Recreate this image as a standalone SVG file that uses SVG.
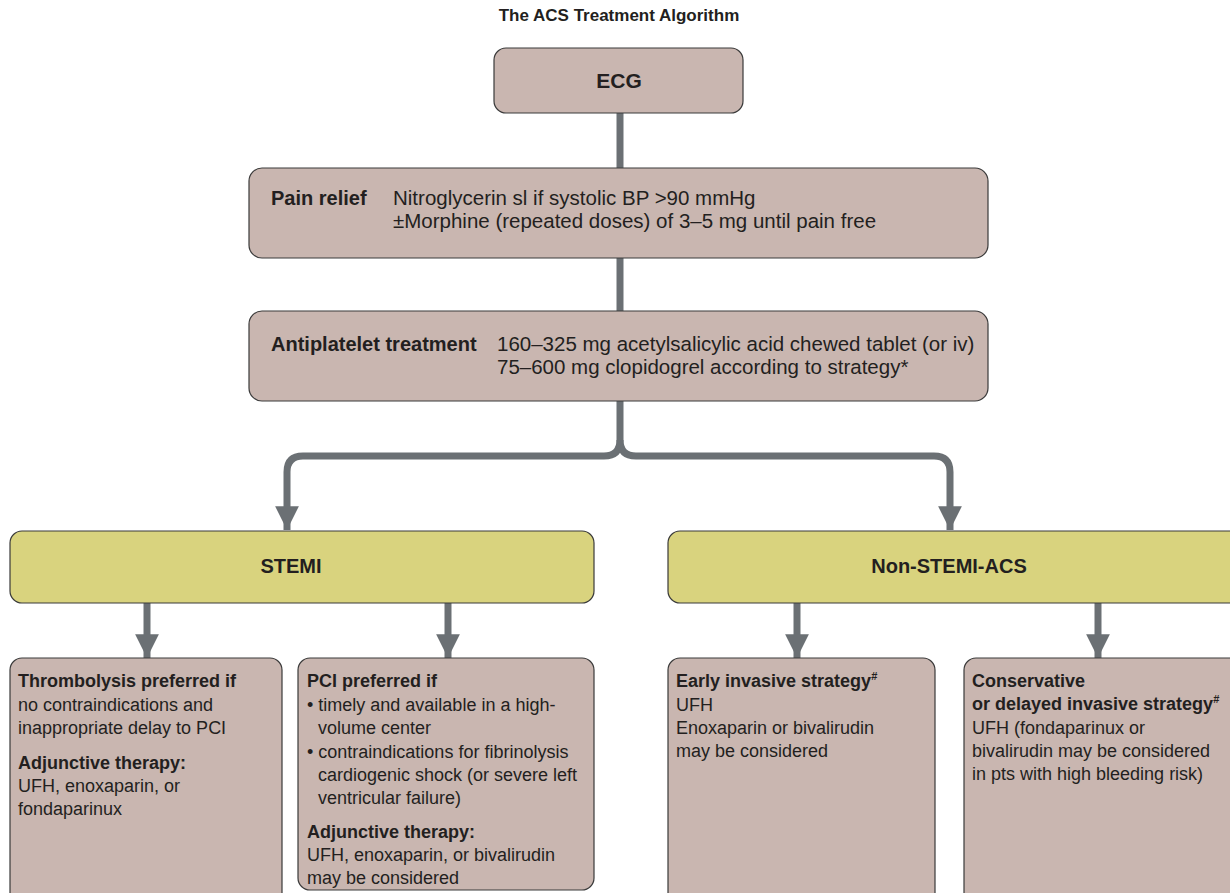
<svg xmlns="http://www.w3.org/2000/svg" width="1230" height="893" viewBox="0 0 1230 893">
<defs>
<style>
text{font-family:"Liberation Sans",Arial,sans-serif;fill:#231f20}
.b{font-weight:bold}
.box{fill:#c9b6b0;stroke:#3a3a3a;stroke-width:1.2}
.yb{fill:#d9d37e;stroke:#3a3a3a;stroke-width:1.2}
.ln{fill:none;stroke:#6b7074;stroke-width:7}
.m{font-size:20.5px}
.mb{font-size:20px}
.s{font-size:18px}
</style>
<marker id="ah" viewBox="0 0 10 10" refX="10" refY="5" markerWidth="3.4" markerHeight="3.4" markerUnits="strokeWidth" orient="auto">
<path d="M0,0 L10,5 L0,10 Z" fill="#6b7074"/>
</marker>
</defs>
<rect width="1230" height="893" fill="#fff"/>
<text x="619" y="21" class="b" font-size="17" text-anchor="middle">The ACS Treatment Algorithm</text>

<g id="connectors">
<line class="ln" x1="620" y1="113" x2="620" y2="168"/>
<line class="ln" x1="620" y1="258" x2="620" y2="311"/>
<path class="ln" d="M620,401 V440 Q620,456 604,456 H303 Q287,456 287,472 V530" marker-end="url(#ah)"/>
<path class="ln" d="M620,440 Q620,456 636,456 H934 Q950,456 950,472 V530" marker-end="url(#ah)"/>
<line class="ln" x1="147" y1="603" x2="147" y2="658" marker-end="url(#ah)"/>
<line class="ln" x1="448" y1="603" x2="448" y2="658" marker-end="url(#ah)"/>
<line class="ln" x1="797" y1="603" x2="797" y2="658" marker-end="url(#ah)"/>
<line class="ln" x1="1098" y1="603" x2="1098" y2="658" marker-end="url(#ah)"/>
</g>

<g id="ecg">
<rect class="box" x="494" y="48" width="249" height="65" rx="12"/>
<text x="619" y="88" class="b" font-size="21" text-anchor="middle">ECG</text>
</g>

<g id="pain">
<rect class="box" x="249" y="168" width="739" height="90" rx="13"/>
<text x="271" y="205" class="b mb">Pain relief</text>
<text x="393" y="205" class="m">Nitroglycerin sl if systolic BP &gt;90 mmHg</text>
<text x="393" y="228" class="m">±Morphine (repeated doses) of 3–5 mg until pain free</text>
</g>

<g id="antiplatelet">
<rect class="box" x="249" y="311" width="739" height="90" rx="13"/>
<text x="271" y="351" class="b mb">Antiplatelet treatment</text>
<text x="497" y="351" class="m">160–325 mg acetylsalicylic acid chewed tablet (or iv)</text>
<text x="497" y="374" class="m">75–600 mg clopidogrel according to strategy*</text>
</g>

<g id="stemi">
<rect class="yb" x="10" y="531" width="584" height="72" rx="12"/>
<text x="291" y="573" class="b mb" text-anchor="middle">STEMI</text>
</g>

<g id="nstemi">
<rect class="yb" x="668" y="531" width="575" height="72" rx="12"/>
<text x="949" y="573" class="b mb" text-anchor="middle">Non-STEMI-ACS</text>
</g>

<g id="thrombolysis">
<rect class="box" x="10" y="658" width="272" height="250" rx="12"/>
<text x="18" y="687" class="b s">Thrombolysis preferred if</text>
<text x="18" y="711" class="s">no contraindications and</text>
<text x="18" y="734" class="s">inappropriate delay to PCI</text>
<text x="18" y="769" class="b s">Adjunctive therapy:</text>
<text x="18" y="792" class="s">UFH, enoxaparin, or</text>
<text x="18" y="815" class="s">fondaparinux</text>
</g>

<g id="pci">
<rect class="box" x="298" y="658" width="296" height="232" rx="12"/>
<text x="307" y="687" class="b s">PCI preferred if</text>
<text x="307" y="711" class="s">• timely and available in a high-</text>
<text x="318" y="734" class="s">volume center</text>
<text x="307" y="758" class="s">• contraindications for fibrinolysis</text>
<text x="318" y="781" class="s">cardiogenic shock (or severe left</text>
<text x="318" y="804" class="s">ventricular failure)</text>
<text x="307" y="838" class="b s">Adjunctive therapy:</text>
<text x="307" y="861" class="s">UFH, enoxaparin, or bivalirudin</text>
<text x="307" y="884" class="s">may be considered</text>
</g>

<g id="early">
<rect class="box" x="668" y="658" width="267" height="250" rx="12"/>
<text x="676" y="687" class="b s">Early invasive strategy<tspan font-size="11" dy="-7">#</tspan></text>
<text x="676" y="711" class="s">UFH</text>
<text x="676" y="734" class="s">Enoxaparin or bivalirudin</text>
<text x="676" y="757" class="s">may be considered</text>
</g>

<g id="conservative">
<rect class="box" x="964" y="658" width="280" height="250" rx="12"/>
<text x="972" y="687" class="b s">Conservative</text>
<text x="972" y="710" class="b s">or delayed invasive strategy<tspan font-size="11" dy="-7">#</tspan></text>
<text x="972" y="734" class="s">UFH (fondaparinux or</text>
<text x="972" y="757" class="s">bivalirudin may be considered</text>
<text x="972" y="780" class="s">in pts with high bleeding risk)</text>
</g>
</svg>
